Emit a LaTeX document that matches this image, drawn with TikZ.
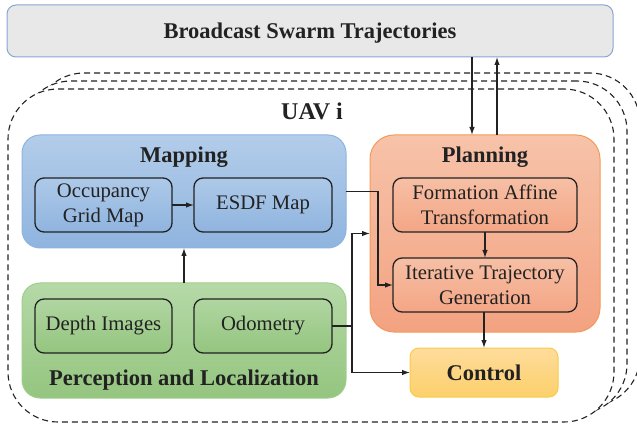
\documentclass[tikz,border=0pt]{standalone}
\usepackage{fontspec}
\setmainfont{Liberation Serif}
\usetikzlibrary{arrows.meta}
\definecolor{bcfill}{HTML}{E8E8E8}
\definecolor{bcdraw}{HTML}{8AA4D6}
\definecolor{maptop}{HTML}{B3CDEA}
\definecolor{mapbot}{HTML}{8FB4DF}
\definecolor{mapdraw}{HTML}{8DB4E2}
\definecolor{pertop}{HTML}{B5D9A7}
\definecolor{perbot}{HTML}{94C57F}
\definecolor{perdraw}{HTML}{9FCF8A}
\definecolor{plantop}{HTML}{F7C3A9}
\definecolor{planbot}{HTML}{F3A281}
\definecolor{plandraw}{HTML}{F39A5A}
\definecolor{ctltop}{HTML}{FEDC9C}
\definecolor{ctlbot}{HTML}{FCD06B}
\definecolor{ctldraw}{HTML}{FCCB4A}
\definecolor{ink}{HTML}{222222}
\begin{document}
\begin{tikzpicture}[x=1pt,y=-1pt,
  every node/.style={inner sep=0pt, outer sep=0pt},
  box/.style={draw=ink, line width=1.3pt, rounded corners=9pt, align=center,
    font=\fontsize{20.7}{25}\selectfont, text=ink, minimum height=54pt},
  ttl/.style={font=\fontsize{22.5}{27}\selectfont\bfseries, text=ink},
  grp/.style={rounded corners=18pt, line width=1pt},
  dashbox/.style={draw=ink, fill=white, dash pattern=on 6pt off 4pt, line width=1.1pt,
    rounded corners=50pt, minimum width=606pt, minimum height=333pt},
  arr/.style={-{Latex[length=8pt,width=5.5pt]}, line width=1.2pt, draw=ink},
  ln/.style={line width=1.2pt, draw=ink}
]
\clip (0,0) rectangle (637,430);
% broadcast
\node[draw=bcdraw, fill=bcfill, line width=1pt, rounded corners=9pt,
  minimum width=606pt, minimum height=52pt] (bcast) at (310,31) {};
\node[ttl] (bcastt) at (310,33) {Broadcast Swarm Trajectories};
% UAV boxes
\node[dashbox] (uav3) at (337,239.5) {};
\node[dashbox] (uav2) at (324,247.5) {};
\node[dashbox] (uav1) at (311,255.5) {};
\node[ttl, font=\fontsize{24}{28}\selectfont\bfseries] (uavt) at (312,111) {UAV i};
% mapping
\node[grp, draw=mapdraw, top color=maptop, bottom color=mapbot,
  minimum width=324pt, minimum height=113pt] (mapping) at (184,191.5) {};
\node[ttl] (mapt) at (184,157) {Mapping};
\node[box, top color=maptop!85!mapbot, bottom color=mapbot, minimum width=137pt] (occ) at (103.5,205) {Occupancy\\Grid Map};
\node[box, top color=maptop!85!mapbot, bottom color=mapbot, minimum width=138pt] (esdf) at (263,205) {ESDF Map};
% perception
\node[grp, draw=perdraw, top color=pertop, bottom color=perbot,
  minimum width=324pt, minimum height=115pt] (percep) at (184,340.5) {};
\node[ttl] (pert) at (184,380) {Perception and Localization};
\node[box, top color=pertop!85!perbot, bottom color=perbot, minimum width=137pt] (depth) at (103.5,326) {Depth Images};
\node[box, top color=pertop!85!perbot, bottom color=perbot, minimum width=138pt] (odom) at (263,326) {Odometry};
% planning
\node[draw=plandraw, rounded corners=24pt, line width=1pt, top color=plantop, bottom color=planbot,
  minimum width=230pt, minimum height=197pt] (planning) at (485,233.5) {};
\node[ttl] (plant) at (485,157) {Planning};
\node[box, top color=plantop!90!planbot, bottom color=planbot!90!plantop, minimum width=184pt] (form) at (485,205) {Formation Affine\\Transformation};
\node[box, top color=plantop!90!planbot, bottom color=planbot!90!plantop, minimum width=184pt] (iter) at (485,285) {Iterative Trajectory\\Generation};
% control
\node[draw=ctldraw, rounded corners=9pt, line width=1pt, top color=ctltop, bottom color=ctlbot,
  minimum width=148pt, minimum height=49pt, font=\fontsize{22.5}{27}\selectfont\bfseries, text=ink] (control) at (484,372.5) {Control};
% connectors
\draw[arr] (occ.east) -- (esdf.west);
\draw[arr] (form.south) -- (iter.north);
\draw[arr] (iter.south -| control.north) -- (control.north);
\draw[arr] (percep.north) -- (mapping.south);
\draw[arr] (mapping.east) -- ++(32,0) |- (iter.west);
\draw[arr] (odom.east) -- ++(20,0) |- (planning.west);
\draw[arr] (odom.east) -- ++(20,0) |- (control.west);
\draw[arr] (bcast.south -| 472,0) -- (planning.north -| 472,0);
\draw[arr] (planning.north -| 497,0) -- (bcast.south -| 497,0);
\end{tikzpicture}
\end{document}
